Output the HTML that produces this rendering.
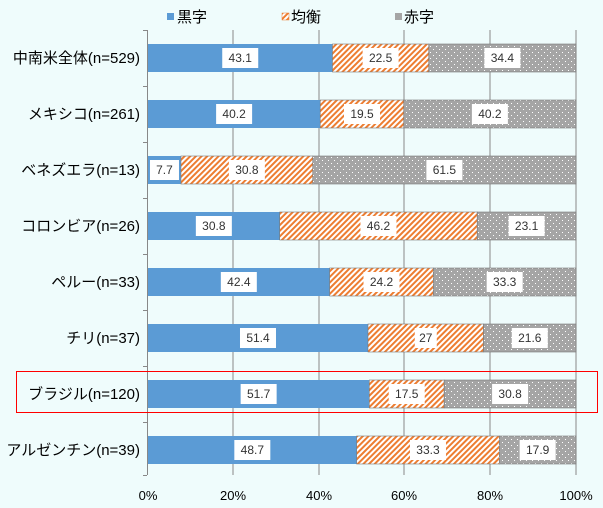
<!DOCTYPE html>
<html><head><meta charset="utf-8"><style>
html,body{margin:0;padding:0;background:#effcfc;}
svg{display:block;font-family:"Liberation Sans","Noto Sans CJK JP",sans-serif;}
</style></head><body>
<svg width="603" height="508" viewBox="0 0 603 508" xmlns="http://www.w3.org/2000/svg">
<defs>
<pattern id="hatch" width="4" height="4" patternUnits="userSpaceOnUse" patternTransform="rotate(45)">
<rect width="4" height="4" fill="#fff"/><rect width="2" height="4" fill="#ed7d31"/>
</pattern>
<pattern id="dots" width="6" height="6" patternUnits="userSpaceOnUse">
<rect width="6" height="6" fill="#a5a5a5"/><rect x="1" y="1" width="1" height="1" fill="#fff"/><rect x="4" y="4" width="1" height="1" fill="#fff"/>
</pattern>
</defs>
<rect width="603" height="508" fill="#effcfc"/>
<rect x="167" y="13" width="7" height="7" fill="#5b9bd5"/>
<text x="177" y="22" font-size="15" fill="#000">黒字</text>
<rect x="282" y="13" width="7" height="7" fill="url(#hatch)" stroke="#ed7d31" stroke-width="0.5"/>
<text x="291" y="22" font-size="15" fill="#000">均衡</text>
<rect x="395" y="13" width="7" height="7" fill="#a5a5a5"/>
<text x="404" y="22" font-size="15" fill="#000">赤字</text>
<g stroke="#888" stroke-width="1">
<line x1="233" y1="30" x2="233" y2="475"/>
<line x1="319" y1="30" x2="319" y2="475"/>
<line x1="404" y1="30" x2="404" y2="475"/>
<line x1="490" y1="30" x2="490" y2="475"/>
<line x1="576" y1="30" x2="576" y2="475"/>
<line x1="147.5" y1="30" x2="147.5" y2="475"/>
<line x1="143" y1="30.5" x2="147" y2="30.5"/>
<line x1="143" y1="86.5" x2="147" y2="86.5"/>
<line x1="143" y1="142.5" x2="147" y2="142.5"/>
<line x1="143" y1="198.5" x2="147" y2="198.5"/>
<line x1="143" y1="254.5" x2="147" y2="254.5"/>
<line x1="143" y1="310.5" x2="147" y2="310.5"/>
<line x1="143" y1="366.5" x2="147" y2="366.5"/>
<line x1="143" y1="422.5" x2="147" y2="422.5"/>
<line x1="143" y1="475.5" x2="147" y2="475.5"/>
</g>
<g id="bars" font-size="12" text-anchor="middle"></g>
<g font-size="13" text-anchor="middle" fill="#000">
<text x="148" y="500">0%</text><text x="233" y="500">20%</text><text x="319" y="500">40%</text>
<text x="404" y="500">60%</text><text x="490" y="500">80%</text><text x="576" y="500">100%</text>
</g>
<rect x="16.5" y="371.5" width="581" height="41" fill="none" stroke="#ff0000" stroke-width="1"/>
<script>
var d=[["中南米全体(n=529)",43.1,22.5,34.4],["メキシコ(n=261)",40.2,19.5,40.2],["ベネズエラ(n=13)",7.7,30.8,61.5],["コロンビア(n=26)",30.8,46.2,23.1],["ペルー(n=33)",42.4,24.2,33.3],["チリ(n=37)",51.4,27,21.6],["ブラジル(n=120)",51.7,17.5,30.8],["アルゼンチン(n=39)",48.7,33.3,17.9]];
var g=document.getElementById("bars"),ns="http://www.w3.org/2000/svg",x0=148,W=428;
function el(t,a,p){var e=document.createElementNS(ns,t);for(var k in a)e.setAttribute(k,a[k]);(p||g).appendChild(e);return e;}
d.forEach(function(r,i){var y=44+i*56,h=28,x=x0,fills=["#5b9bd5","url(#hatch)","url(#dots)"];
var tot=r[1]+r[2]+r[3];
for(var j=0;j<3;j++){var w=r[j+1]/tot*W;el("rect",{x:x,y:y,width:w,height:h,fill:fills[j],stroke:j==0?"none":"#777","stroke-width":0.6});
var s=String(r[j+1]);var bw=s.length*7+8;var cx=x+w/2;
el("rect",{x:cx-bw/2,y:y+4,width:bw,height:20,fill:"#fff"});
var t=el("text",{x:cx,y:y+18,fill:"#333"});t.textContent=s;x+=w;}
var l=el("text",{x:140,y:y+19,"font-size":"15","text-anchor":"end",fill:"#000",textLength:r[0].length>12?"136":null});l.textContent=r[0];});
</script>
</svg>
</body></html>
